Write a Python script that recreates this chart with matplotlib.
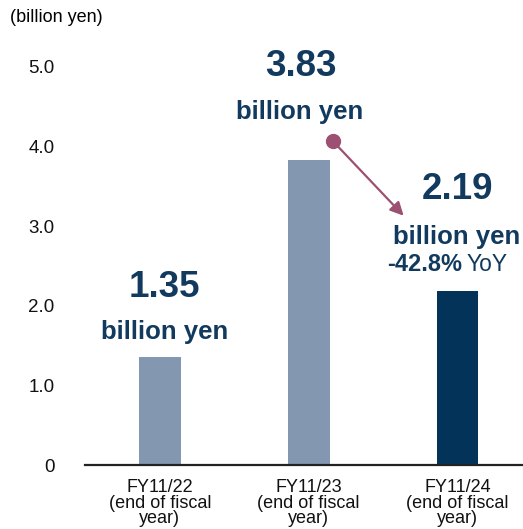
import matplotlib
matplotlib.use('Agg')
import matplotlib.pyplot as plt

# Datos del gráfico
categorias = ['FY11/22\n(end of fiscal\nyear)', 'FY11/23\n(end of fiscal\nyear)', 'FY11/24\n(end of fiscal\nyear)']
valores = [1.35, 3.83, 2.19]
etiquetas_valor = ['1.35', '3.83', '2.19']
variacion = '-42.8%'
ticks_y = [0, 1, 2, 3, 4, 5]
ticks_y_txt = ['0', '1.0', '2.0', '3.0', '4.0', '5.0']

color_claro = '#8497B0'
color_oscuro = '#04335A'
color_texto = '#123A5E'
color_flecha = '#9C5072'

plt.rcParams['font.family'] = ['Liberation Sans', 'DejaVu Sans']

fig = plt.figure(figsize=(5.23, 5.29), dpi=100)
ax = fig.add_axes([85 / 523, 64 / 529, 438 / 523, 438 / 529])

x = list(range(len(valores)))
colores = [color_claro, color_claro, color_oscuro]
ax.bar(x, valores, width=0.28, color=colores, zorder=2)

ax.set_xlim(-0.503, 2.44)
ax.set_ylim(0, 5.5)
ax.set_yticks(ticks_y)
ax.set_yticklabels(ticks_y_txt, fontsize=13.5)
ax.set_xticks(x)
ax.set_xticklabels(categorias, fontsize=13, linespacing=0.9)
ax.tick_params(axis='both', length=0, colors='#111111')
ax.tick_params(axis='y', pad=22)
ax.tick_params(axis='x', pad=10)

for lado in ['top', 'right', 'left']:
    ax.spines[lado].set_visible(False)
ax.spines['bottom'].set_linewidth(1.6)
ax.spines['bottom'].set_color('#222222')

fig.text(10 / 523, 1 - 18 / 529, '(billion yen)', fontsize=13, va='center', ha='left')

# Etiquetas de valor sobre cada barra (desplazamiento en puntos)
desp_num = [(3.6, 50.4), (-5.8, 67), (0, 72.5)]
desp_txt = [(3.6, 18), (-6.5, 34.5), (-0.7, 38.5)]
for i, v in enumerate(valores):
    ax.annotate(etiquetas_valor[i], (x[i], v), xytext=desp_num[i], textcoords='offset points',
                ha='center', va='center', fontsize=26.5, fontweight='bold', color=color_texto)
    ax.annotate('billion yen', (x[i], v), xytext=desp_txt[i], textcoords='offset points',
                ha='center', va='center', fontsize=18.5, fontweight='bold', color=color_texto)

# Variación interanual
ax.annotate(variacion, (x[2], valores[2]), xytext=(3.6, 18.7), textcoords='offset points',
            ha='right', va='center', fontsize=17, fontweight='bold', color=color_texto)
ax.annotate('YoY', (x[2], valores[2]), xytext=(6.8, 18.7), textcoords='offset points',
            ha='left', va='center', fontsize=16.5, color=color_texto)

# Flecha de la caída
inicio = (1.161, 4.07)
fin = (1.638, 3.13)
ax.annotate('', xy=fin, xytext=inicio,
            arrowprops=dict(arrowstyle='-|>', color=color_flecha, lw=1.6,
                            mutation_scale=20, shrinkA=0, shrinkB=0))
ax.plot(*inicio, 'o', color=color_flecha, markersize=10, zorder=3)

fig.savefig('out.png', dpi=100)
